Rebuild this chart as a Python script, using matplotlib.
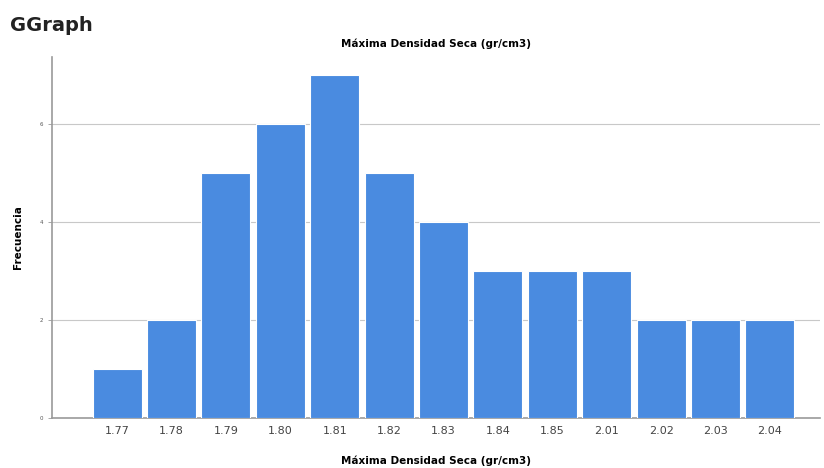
import matplotlib.pyplot as plt

# categories and frequencies
categorias = ["1.77", "1.78", "1.79", "1.80", "1.81", "1.82", "1.83",
              "1.84", "1.85", "2.01", "2.02", "2.03", "2.04"]
frecuencias = [1, 2, 5, 6, 7, 5, 4, 3, 3, 3, 2, 2, 2]
yticks = [0, 2, 4, 6]

fig = plt.figure(figsize=(8.24, 4.68), dpi=100)
ax = fig.add_axes([0.063, 0.107, 0.932, 0.771])

x = range(len(categorias))
ax.bar(x, frecuencias, width=0.9, color="#4a8be0", edgecolor="white",
       linewidth=0.8, zorder=3)

ax.set_xlim(-1.2, 12.92)
ax.set_ylim(0, 7.37)
ax.set_xticks(list(x))
ax.set_xticklabels(categorias, fontsize=8, color="#444444")
ax.set_yticks(yticks)
ax.set_yticklabels([str(v) for v in yticks], fontsize=4, color="#555555")
ax.tick_params(axis="x", length=0, pad=6)
ax.tick_params(axis="y", length=3, width=0.6, color="#999999")

ax.grid(axis="y", color="#c8c8c8", linewidth=0.8, zorder=0)
for s in ["top", "right"]:
    ax.spines[s].set_visible(False)
ax.spines["left"].set_color("#9a9a9a")
ax.spines["bottom"].set_color("#9a9a9a")
ax.spines["left"].set_linewidth(1.2)
ax.spines["bottom"].set_linewidth(1.2)

ax.set_ylabel("Frecuencia", fontsize=7.5, fontweight="bold", labelpad=12)
ax.set_xlabel("Máxima Densidad Seca (gr/cm3)", fontsize=7.5,
              fontweight="bold", labelpad=14)
ax.set_title("Máxima Densidad Seca (gr/cm3)", fontsize=7.5,
             fontweight="bold", pad=7)

fig.text(0.012, 0.945, "GGraph", fontsize=14, fontweight="bold",
         color="#222222", va="center")

fig.savefig("out.png", dpi=100)
